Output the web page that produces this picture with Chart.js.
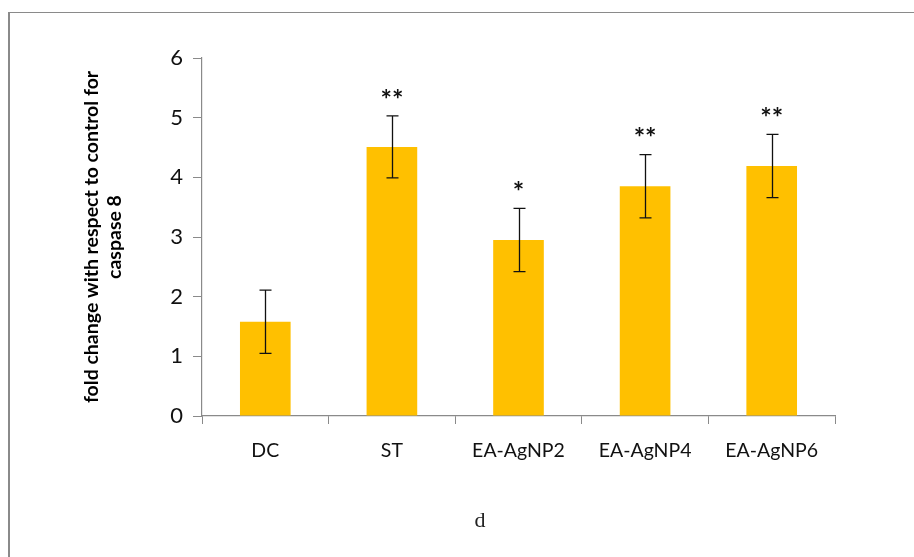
<!DOCTYPE html>
<html>
<head>
<meta charset="utf-8">
<script src="https://cdn.jsdelivr.net/npm/chart.js@4.4.0/dist/chart.umd.min.js"></script>
<style>
  body { margin: 0; background: #fff; }
  .wrap { position: relative; width: 914px; height: 557px; overflow: hidden; }
  .frame {
    position: absolute; left: 8px; top: 12px; width: 1000px; height: 1000px;
    border-left: 2px solid #8a8a8a; border-top: 1px solid #8a8a8a;
  }
  canvas { position: absolute; left: 0; top: 0; }
</style>
</head>
<body>
<div class="wrap">
  <div class="frame"></div>
  <canvas id="chart" width="914" height="557"></canvas>
</div>
<script>
const LABELS = ['DC', 'ST', 'EA-AgNP2', 'EA-AgNP4', 'EA-AgNP6'];
const MEANS = [1.58, 4.51, 2.95, 3.85, 4.19];
const ERRORS = [0.53, 0.52, 0.53, 0.53, 0.53];
const MARKS = ['', '**', '*', '**', '**'];
const Y_TITLE = ['fold change with respect to control for', 'caspase 8'];
const CAPTION = 'd';

const AXIS_GREY = '#8a8a8a';

// error bars + significance stars
const errorBars = {
  id: 'errorBars',
  afterDatasetsDraw(chart) {
    const { ctx } = chart;
    const y = chart.scales.y;
    const bars = chart.getDatasetMeta(0).data;
    ctx.save();
    bars.forEach((bar, i) => {
      const top = y.getPixelForValue(MEANS[i] + ERRORS[i]);
      const bottom = y.getPixelForValue(MEANS[i] - ERRORS[i]);
      const x = Math.round(bar.x) + 0.5;
      ctx.strokeStyle = '#111';
      ctx.lineWidth = 1.3;
      ctx.beginPath();
      ctx.moveTo(x, top); ctx.lineTo(x, bottom);
      ctx.moveTo(x - 6, top); ctx.lineTo(x + 6, top);
      ctx.moveTo(x - 6, bottom); ctx.lineTo(x + 6, bottom);
      ctx.stroke();
      if (MARKS[i]) {
        ctx.fillStyle = '#111';
        ctx.font = 'bold 27px Lato';
        ctx.textAlign = 'center';
        ctx.textBaseline = 'middle';
        ctx.fillText(MARKS[i], bar.x, top - 16);
      }
    });
    ctx.restore();
  },
  afterDraw(chart) {
    const { ctx, chartArea } = chart;
    ctx.save();
    // y-axis title, two rotated lines
    ctx.translate(103, (chartArea.top + chartArea.bottom) / 2);
    ctx.rotate(-Math.PI / 2);
    ctx.fillStyle = '#000';
    ctx.font = 'bold 19.5px Lato';
    ctx.textAlign = 'center';
    ctx.textBaseline = 'middle';
    ctx.fillText(Y_TITLE[0], 0, -11);
    ctx.fillText(Y_TITLE[1], 0, 12);
    ctx.restore();
    ctx.save();
    ctx.fillStyle = '#222';
    ctx.font = '22px "Liberation Serif"';
    ctx.textAlign = 'center';
    ctx.textBaseline = 'middle';
    ctx.fillText(CAPTION, 480, 521);
    ctx.restore();
  },
};

new Chart(document.getElementById('chart'), {
  type: 'bar',
  data: {
    labels: LABELS,
    datasets: [{
      data: MEANS,
      backgroundColor: '#FFC000',
      categoryPercentage: 1,
      barPercentage: 0.4,
    }],
  },
  options: {
    responsive: false,
    animation: false,
    layout: { padding: { top: 58, right: 79, left: 0, bottom: 0 } },
    plugins: { legend: { display: false }, tooltip: { enabled: false } },
    scales: {
      x: {
        grid: { drawOnChartArea: false, tickLength: 8, color: AXIS_GREY, offset: true },
        border: { color: AXIS_GREY, width: 1.2 },
        ticks: { color: '#111', font: { family: 'Lato', size: 19.5 }, padding: 15, maxRotation: 0 },
        afterFit(scale) { scale.height = 141; },
      },
      y: {
        min: 0,
        max: 6,
        grid: { drawOnChartArea: false, tickLength: 9, color: AXIS_GREY },
        border: { color: AXIS_GREY, width: 1.2 },
        ticks: { stepSize: 1, color: '#111', font: { family: 'Lato', size: 22 }, padding: 10 },
        afterFit(scale) { scale.width = 202; },
      },
    },
  },
  plugins: [errorBars],
});
</script>
</body>
</html>
